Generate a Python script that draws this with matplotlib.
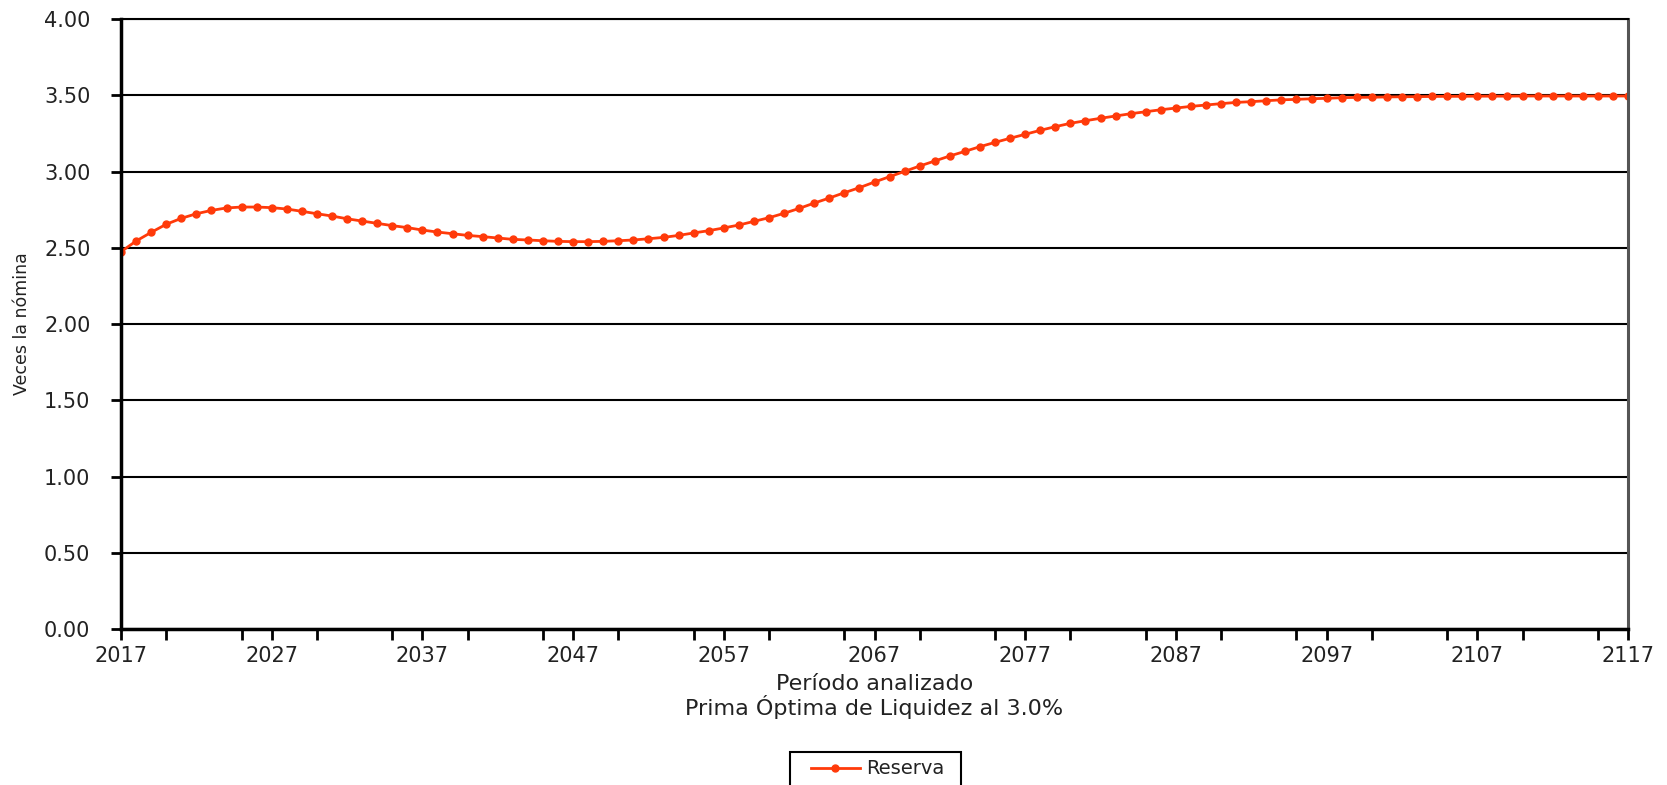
import matplotlib.pyplot as plt
from matplotlib.patches import Rectangle
from matplotlib.ticker import MultipleLocator, FixedLocator

# Datos (reserva en veces la nómina, por año)
years = list(range(2017, 2118))
reserva = [
    2.474, 2.544, 2.601, 2.654, 2.693, 2.723, 2.745, 2.761, 2.767, 2.767,
    2.763, 2.754, 2.739, 2.723, 2.708, 2.690, 2.675, 2.660, 2.645, 2.632,
    2.616, 2.603, 2.592, 2.581, 2.573, 2.564, 2.555, 2.551, 2.546, 2.542,
    2.540, 2.540, 2.542, 2.546, 2.551, 2.559, 2.568, 2.581, 2.597, 2.612,
    2.630, 2.649, 2.673, 2.697, 2.726, 2.758, 2.793, 2.826, 2.861, 2.894,
    2.931, 2.966, 3.001, 3.036, 3.069, 3.102, 3.132, 3.163, 3.191, 3.218,
    3.244, 3.270, 3.294, 3.316, 3.333, 3.349, 3.364, 3.379, 3.392, 3.405,
    3.416, 3.427, 3.436, 3.445, 3.453, 3.458, 3.464, 3.470, 3.473, 3.477,
    3.480, 3.484, 3.486, 3.487, 3.489, 3.490, 3.491, 3.492, 3.493, 3.493,
    3.494, 3.494, 3.494, 3.495, 3.495, 3.495, 3.495, 3.495, 3.495, 3.495,
    3.495,
]
x_labels = [str(y) for y in range(2017, 2118, 10)]
y_ticks = [0.0, 0.5, 1.0, 1.5, 2.0, 2.5, 3.0, 3.5, 4.0]

color = '#ff3a0a'
text_color = '#222222'
fs = 15

plt.rcParams['font.family'] = ['DejaVu Sans']

fig = plt.figure(figsize=(16.67, 7.85), dpi=100)
ax = fig.add_axes([0.0726, 0.1987, 0.904, 0.7771])

ax.plot(years, reserva, color=color, linewidth=2, marker='o',
        markersize=5, label='Reserva')

ax.set_xlim(2017, 2117)
ax.set_ylim(0, 4)

# Ejes y rejilla
ax.set_yticks(y_ticks)
ax.set_yticklabels([f"{v:.2f}" for v in y_ticks])
ax.xaxis.set_major_locator(FixedLocator(list(range(2017, 2118, 10))))
ax.set_xticklabels(x_labels)
ax.xaxis.set_minor_locator(MultipleLocator(5))
ax.yaxis.grid(True, color='black', linewidth=1.5)
ax.set_axisbelow(True)

ax.tick_params(axis='both', which='both', direction='out', width=2,
               colors='black', labelcolor=text_color, labelsize=fs)
ax.tick_params(axis='y', length=7, pad=15)
ax.tick_params(axis='x', which='major', length=8, pad=4)
ax.tick_params(axis='x', which='minor', length=8)

for side in ['left', 'bottom']:
    ax.spines[side].set_linewidth(2.5)
    ax.spines[side].set_color('black')
ax.spines['right'].set_linewidth(2.2)
ax.spines['right'].set_color('#555555')
ax.spines['top'].set_linewidth(1.5)
ax.spines['top'].set_color('black')

# Etiquetas
ax.set_ylabel('Veces la nómina', fontsize=12.5, color=text_color)
ax.yaxis.set_label_coords(-0.0595, 0.5)

fig.text(0.5245, 0.1127, 'Período analizado\nPrima Óptima de Liquidez al 3.0%',
         ha='center', va='center', multialignment='center',
         fontsize=16, color=text_color, linespacing=1.05)

leg = ax.legend(loc='upper center', bbox_to_anchor=(0.5267, 0.0425),
                bbox_transform=fig.transFigure, frameon=False,
                fontsize=14, handlelength=2.5, borderpad=0.4,
                borderaxespad=0, handletextpad=0.35, labelcolor=text_color)

# marco de la leyenda algo más ancho que el de matplotlib
fig.canvas.draw()
bb = leg.get_window_extent()
W, H = fig.get_size_inches() * fig.dpi
x0, x1 = bb.x0 - 13, bb.x1 + 8
fig.patches.append(Rectangle((x0 / W, bb.y0 / H), (x1 - x0) / W,
                             bb.height / H, transform=fig.transFigure,
                             fill=False, edgecolor='black', linewidth=1.5))

plt.savefig("out.png", dpi=100)
